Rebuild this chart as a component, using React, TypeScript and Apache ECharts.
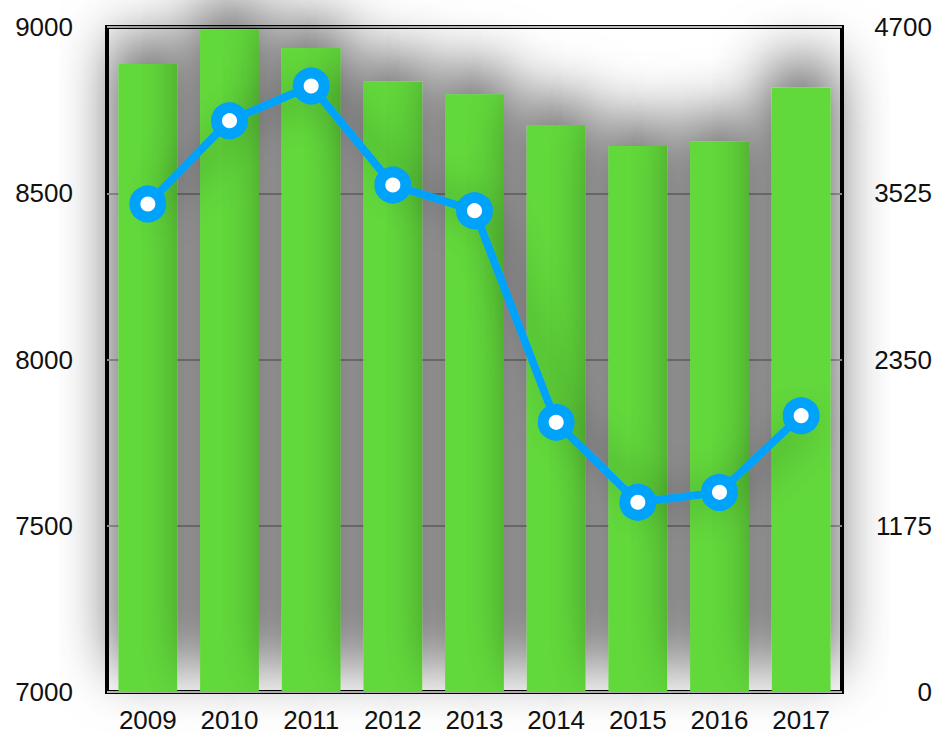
import React, { useEffect, useRef } from "react";
import * as echarts from "echarts";

const years = ["2009", "2010", "2011", "2012", "2013", "2014", "2015", "2016", "2017"];
const barValues = [8889, 8993, 8937, 8835, 8798, 8705, 8642, 8656, 8817];
const lineValues = [3449, 4038, 4283, 3583, 3402, 1906, 1341, 1411, 1953];
const leftMin = 7000;
const leftMax = 9000;
const leftStep = 500;
const rightMin = 0;
const rightMax = 4700;
const rightStep = 1175;

export default function App() {
  const ref = useRef<HTMLDivElement>(null);
  useEffect(() => {
    document.body.style.margin = "0";
    const chart = echarts.init(ref.current!, undefined, { renderer: "svg" });
    const labelStyle = {
      color: "#111",
      fontSize: 26,
      fontFamily: "Liberation Sans, Arial, sans-serif",
      formatter: (v: number | string) => String(v),
    };
    chart.setOption({
      animation: false,
      backgroundColor: "#fff",
      grid: {
        left: 107,
        right: 98,
        top: 27,
        bottom: 50,
        show: true,
        borderColor: "#000",
        borderWidth: 4,
        backgroundColor: "transparent",
      },
      xAxis: {
        type: "category",
        data: years,
        axisLine: { show: false },
        axisTick: { show: false },
        axisLabel: { ...labelStyle, margin: 15 },
      },
      yAxis: [
        {
          type: "value",
          min: leftMin,
          max: leftMax,
          interval: leftStep,
          axisLine: { show: false },
          axisTick: { show: false },
          axisLabel: { ...labelStyle, margin: 34 },
          splitLine: { lineStyle: { color: "#bdbdbd", width: 2 } },
        },
        {
          type: "value",
          min: rightMin,
          max: rightMax,
          interval: rightStep,
          position: "right",
          axisLine: { show: false },
          axisTick: { show: false },
          axisLabel: { ...labelStyle, margin: 90, align: "right" },
          splitLine: { show: false },
        },
      ],
      series: [
        {
          type: "bar",
          data: barValues,
          yAxisIndex: 0,
          barWidth: "72%",
          itemStyle: {
            color: "#62d93a",
            shadowColor: "rgba(0,0,0,0.75)",
            shadowBlur: 60,
            shadowOffsetY: -25,
          },
        },
        {
          type: "line",
          data: lineValues,
          yAxisIndex: 1,
          symbol: "circle",
          symbolSize: 26,
          lineStyle: {
            color: "#00a2fa",
            width: 8,
            shadowColor: "rgba(0,0,0,0.5)",
            shadowBlur: 40,
            shadowOffsetX: 12,
          },
          itemStyle: {
            color: "#fff",
            borderColor: "#00a2fa",
            borderWidth: 11,
          },
        },
      ],
    });
    return () => chart.dispose();
  }, []);
  return <div ref={ref} style={{ width: 940, height: 742 }} />;
}
